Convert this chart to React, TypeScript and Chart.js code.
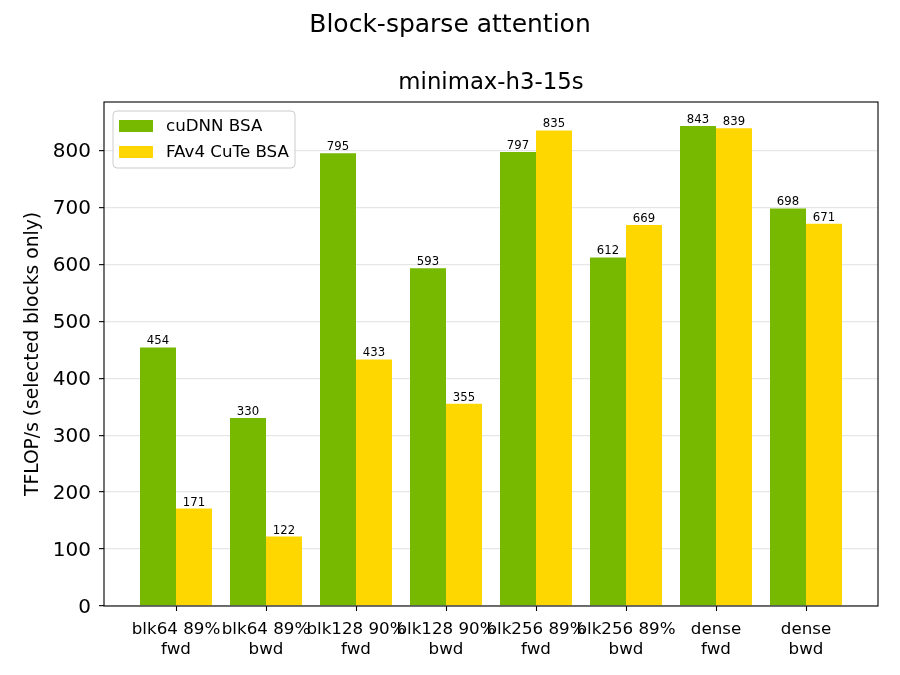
import { useEffect, useRef } from "react"
import { Chart, registerables } from "chart.js"

Chart.register(...registerables)

const categories = [
  ["blk64 89%", "fwd"],
  ["blk64 89%", "bwd"],
  ["blk128 90%", "fwd"],
  ["blk128 90%", "bwd"],
  ["blk256 89%", "fwd"],
  ["blk256 89%", "bwd"],
  ["dense", "fwd"],
  ["dense", "bwd"],
]
const cudnnBsa = [454, 330, 795, 593, 797, 612, 843, 698]
const fav4CuteBsa = [171, 122, 433, 355, 835, 669, 839, 671]
const yTicks = [0, 100, 200, 300, 400, 500, 600, 700, 800]

const FONT = "DejaVu Sans"
const SUPTITLE = "Block-sparse attention"
const AXTITLE = "minimax-h3-15s"

// figure title centred on the canvas, axes title centred on the plot area
const titles = {
  id: "titles",
  afterDraw(chart: Chart) {
    const { ctx, chartArea, width } = chart
    ctx.save()
    ctx.fillStyle = "#000"
    ctx.textAlign = "center"
    ctx.textBaseline = "middle"
    ctx.font = `25px "${FONT}"`
    ctx.fillText(SUPTITLE, width / 2, 25)
    ctx.font = `22.8px "${FONT}"`
    ctx.fillText(AXTITLE, (chartArea.left + chartArea.right) / 2, 83)
    ctx.restore()
  },
}

// value labels above each bar
const barLabels = {
  id: "barLabels",
  afterDatasetsDraw(chart: Chart) {
    const ctx = chart.ctx
    ctx.save()
    ctx.font = `11.7px "${FONT}"`
    ctx.fillStyle = "#000"
    ctx.textAlign = "center"
    ctx.textBaseline = "alphabetic"
    chart.data.datasets.forEach((ds, i) => {
      const meta = chart.getDatasetMeta(i)
      meta.data.forEach((bar: any, j) => {
        const v = (ds.data[j] as any).y
        ctx.fillText(String(v), bar.x, bar.y - 3)
      })
    })
    ctx.restore()
  },
}

// axes frame and legend box like matplotlib
const frameAndLegend = {
  id: "frameAndLegend",
  afterDatasetsDraw(chart: Chart) {
    const { ctx, chartArea } = chart
    ctx.save()
    ctx.strokeStyle = "#000"
    ctx.lineWidth = 1.1
    ctx.strokeRect(chartArea.left, chartArea.top, chartArea.right - chartArea.left, chartArea.bottom - chartArea.top)

    const x0 = chartArea.left + 9
    const y0 = chartArea.top + 9
    const w = 182
    const h = 57
    ctx.beginPath()
    ctx.roundRect(x0, y0, w, h, 4)
    ctx.fillStyle = "rgba(255,255,255,0.8)"
    ctx.fill()
    ctx.strokeStyle = "#cccccc"
    ctx.lineWidth = 1
    ctx.stroke()

    ctx.font = `16.7px "${FONT}"`
    ctx.textBaseline = "middle"
    ctx.textAlign = "left"
    chart.data.datasets.forEach((ds, i) => {
      const cy = y0 + 15 + i * 26
      ctx.fillStyle = ds.backgroundColor as string
      ctx.fillRect(x0 + 6, cy - 6, 34, 12)
      ctx.fillStyle = "#000"
      ctx.fillText(ds.label as string, x0 + 53, cy + 1)
    })
    ctx.restore()
  },
}

export default function App() {
  const chartRef = useRef<HTMLCanvasElement>(null)
  const chartInstance = useRef<Chart | null>(null)

  useEffect(() => {
    document.body.style.margin = "0"
    if (!chartRef.current) return
    if (chartInstance.current) chartInstance.current.destroy()
    const ctx = chartRef.current.getContext("2d")
    if (!ctx) return

    Chart.defaults.font.family = FONT
    Chart.defaults.color = "#000"

    chartInstance.current = new Chart(ctx, {
      type: "bar",
      data: {
        datasets: [
          {
            label: "cuDNN BSA",
            data: cudnnBsa.map((v, i) => ({ x: i, y: v })),
            backgroundColor: "#76b900",
            categoryPercentage: 0.8,
            barPercentage: 1.0,
          },
          {
            label: "FAv4 CuTe BSA",
            data: fav4CuteBsa.map((v, i) => ({ x: i, y: v })),
            backgroundColor: "#ffd700",
            categoryPercentage: 0.8,
            barPercentage: 1.0,
          },
        ],
      },
      plugins: [barLabels, frameAndLegend, titles],
      options: {
        responsive: false,
        animation: false,
        devicePixelRatio: 1,
        layout: { padding: { left: 0, right: 22, top: 102, bottom: 0 } },
        plugins: {
          legend: { display: false },
          tooltip: { enabled: false },
          title: { display: false },
          subtitle: { display: false },
        },
        scales: {
          x: {
            type: "linear",
            min: -0.8,
            max: 7.8,
            offset: false,
            afterBuildTicks: (scale: any) => {
              scale.ticks = categories.map((_, i) => ({ value: i }))
            },
            afterFit: (scale: any) => {
              scale.height = 69
            },
            ticks: {
              autoSkip: false,
              maxRotation: 0,
              padding: 9,
              font: { size: 16.7, family: FONT, lineHeight: 1.17 },
              callback: (value: any) => categories[value] ?? "",
            },
            grid: {
              offset: false,
              drawOnChartArea: false,
              drawTicks: true,
              tickLength: 5,
              tickColor: "#000",
              tickWidth: 1.1,
            },
            border: { display: false },
          },
          y: {
            type: "linear",
            min: 0,
            max: 885,
            afterBuildTicks: (scale: any) => {
              scale.ticks = yTicks.map((v) => ({ value: v }))
            },
            afterFit: (scale: any) => {
              scale.width = 104
            },
            ticks: {
              padding: 8,
              labelOffset: 1.5,
              font: { size: 20, family: FONT },
            },
            grid: {
              color: "#e6e6e6",
              lineWidth: 1.3,
              tickLength: 5,
              tickColor: "#000",
              tickWidth: 1.1,
            },
            border: { display: false },
            title: {
              display: true,
              text: "TFLOP/s (selected blocks only)",
              font: { size: 18.7, family: FONT },
              padding: { top: 22 },
            },
          },
        },
      },
    })

    return () => {
      if (chartInstance.current) {
        chartInstance.current.destroy()
        chartInstance.current = null
      }
    }
  }, [])

  return (
    <div style={{ width: 900, height: 675, background: "#fff" }}>
      <canvas ref={chartRef} width={900} height={675} />
    </div>
  )
}
